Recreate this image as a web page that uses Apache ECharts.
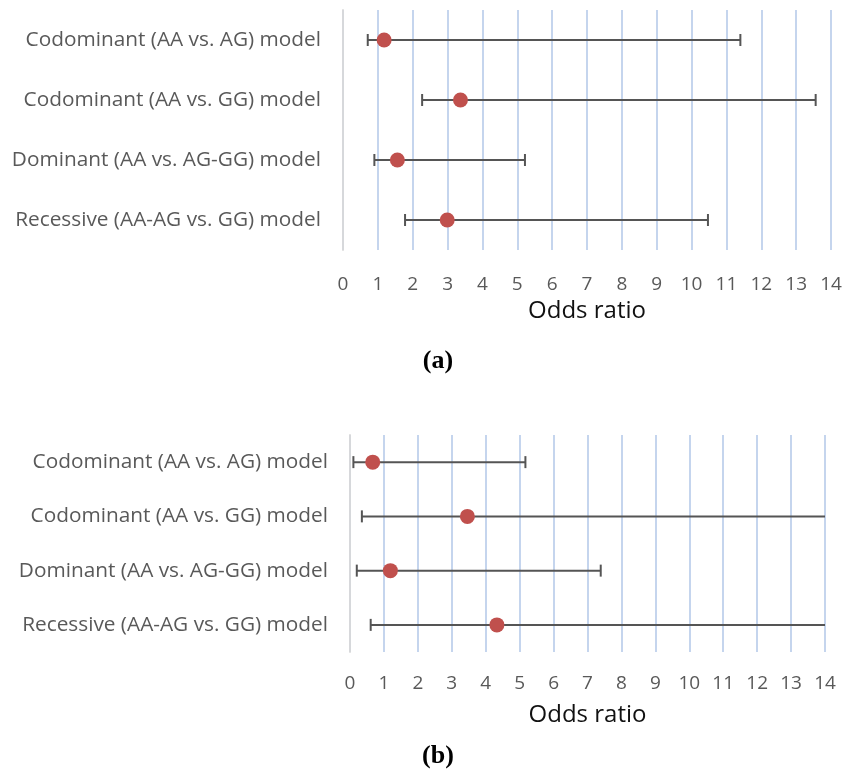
<!DOCTYPE html>
<html>
<head>
<meta charset="utf-8">
<script src="https://cdn.jsdelivr.net/npm/echarts@6/dist/echarts.min.js"></script>
<style>
  html, body { margin: 0; padding: 0; background: #fff; }
  #chart { width: 849px; height: 778px; }
</style>
</head>
<body>
<div id="chart"></div>
<script>
// ---- Data ----
const categories = [
  "Codominant (AA vs. AG) model",
  "Codominant (AA vs. GG) model",
  "Dominant (AA vs. AG-GG) model",
  "Recessive (AA-AG vs. GG) model"
];
// Panel (a)
const oddsA = [1.18, 3.37, 1.56, 2.99];
const lowA  = [0.71, 2.27, 0.90, 1.78];
const highA = [11.40, 13.56, 5.22, 10.47];
// Panel (b)  (upper limits of 14 run past the axis end, drawn without a cap)
const oddsB = [0.67, 3.46, 1.19, 4.33];
const lowB  = [0.10, 0.35, 0.20, 0.61];
const highB = [5.17, 14, 7.39, 14];
// Axis
const xMin = 0, xMax = 14, xStep = 1;
const axisTitle = "Odds ratio";
const panelLabels = ["(a)", "(b)"];

// ---- Styling ----
const FONT = "Open Sans";
const labelColor = "#595959";
const gridColor = "#bfd1ec";
const barColor = "#555555";
const dotColor = "#c0504d";

const chart = echarts.init(document.getElementById('chart'), null, {renderer: 'canvas'});

function errData(low, high) {
  return low.map((l, i) => [l, high[i], i]);
}
function dotData(odds) {
  return odds.map((v, i) => [v, i]);
}
function renderErr(params, api) {
  const lo = api.value(0), hi = api.value(1), idx = api.value(2);
  const p1 = api.coord([lo, idx]);
  const p2 = api.coord([hi, idx]);
  const capH = 6;
  const style = { stroke: barColor, lineWidth: 2 };
  const children = [
    { type: 'line', shape: { x1: p1[0], y1: p1[1], x2: p2[0], y2: p2[1] }, style: style },
    { type: 'line', shape: { x1: p1[0], y1: p1[1] - capH, x2: p1[0], y2: p1[1] + capH }, style: style }
  ];
  if (hi < xMax) {
    children.push({ type: 'line', shape: { x1: p2[0], y1: p2[1] - capH, x2: p2[0], y2: p2[1] + capH }, style: style });
  }
  return { type: 'group', children: children };
}

function xAxisCfg(gridIndex, labelMargin, nameGap) {
  return {
    type: 'value', gridIndex: gridIndex, min: xMin, max: xMax, interval: xStep,
    axisLine: { show: false }, axisTick: { show: false },
    splitLine: { show: true, lineStyle: { color: gridColor, width: 1.8 } },
    axisLabel: { color: labelColor, fontFamily: FONT, fontSize: 19, margin: labelMargin },
    name: axisTitle, nameLocation: 'middle', nameGap: nameGap,
    nameTextStyle: { color: '#111', fontFamily: FONT, fontSize: 24 }
  };
}
function yAxisCfg(gridIndex) {
  return {
    type: 'category', gridIndex: gridIndex, data: categories, inverse: true,
    axisLine: { show: true, lineStyle: { color: '#d9d9d9', width: 1.8 } },
    axisTick: { show: false }, splitLine: { show: false },
    axisLabel: { color: labelColor, fontFamily: FONT, fontSize: 20.8, margin: 22 }
  };
}

const option = {
  backgroundColor: '#fff',
  animation: false,
  grid: [
    { left: 343, top: 10, width: 488, height: 240 },
    { left: 350, top: 435, width: 475, height: 217 }
  ],
  xAxis: [xAxisCfg(0, 25, 49), xAxisCfg(1, 22, 51)],
  yAxis: [yAxisCfg(0), yAxisCfg(1)],
  title: [
    { text: panelLabels[0], left: 433, top: 343, textAlign: 'center',
      textStyle: { fontFamily: 'Liberation Serif', fontWeight: 'bold', fontSize: 26, color: '#000' } },
    { text: panelLabels[1], left: 433, top: 738, textAlign: 'center',
      textStyle: { fontFamily: 'Liberation Serif', fontWeight: 'bold', fontSize: 26, color: '#000' } }
  ],
  series: [
    { type: 'custom', xAxisIndex: 0, yAxisIndex: 0, renderItem: renderErr,
      data: errData(lowA, highA), encode: { x: [0, 1], y: 2 }, clip: true, z: 2 },
    { type: 'scatter', xAxisIndex: 0, yAxisIndex: 0, data: dotData(oddsA),
      symbolSize: 15, itemStyle: { color: dotColor, opacity: 1 }, z: 3 },
    { type: 'custom', xAxisIndex: 1, yAxisIndex: 1, renderItem: renderErr,
      data: errData(lowB, highB), encode: { x: [0, 1], y: 2 }, clip: true, z: 2 },
    { type: 'scatter', xAxisIndex: 1, yAxisIndex: 1, data: dotData(oddsB),
      symbolSize: 15, itemStyle: { color: dotColor, opacity: 1 }, z: 3 }
  ]
};
chart.setOption(option);
</script>
</body>
</html>
